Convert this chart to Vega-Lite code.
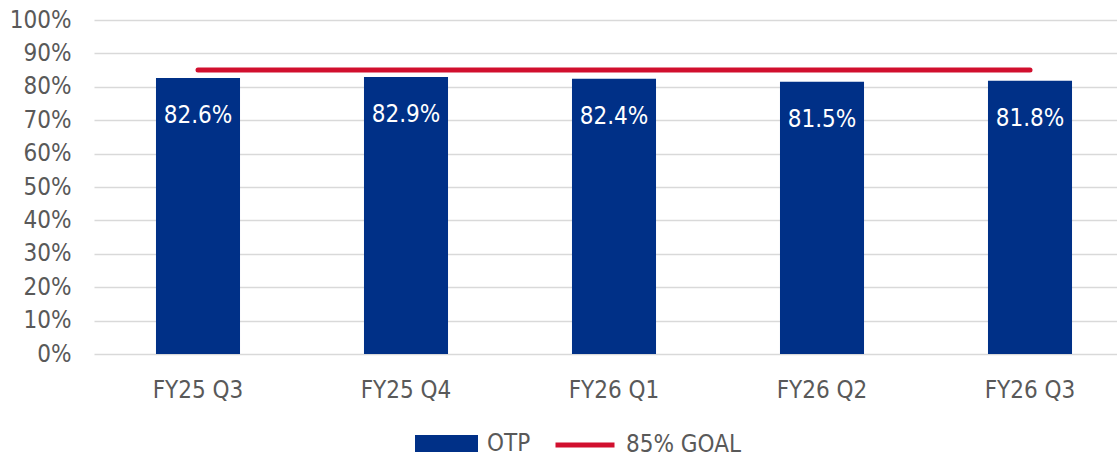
{
  "$schema": "https://vega.github.io/schema/vega-lite/v6.json",
  "autosize": {"type": "none"},
  "padding": {"left": 94, "top": 20, "right": 0, "bottom": 98},
  "width": 1040,
  "height": 334,
  "background": "white",
  "config": {
    "font": "DejaVu Sans Condensed",
    "view": {"stroke": null}
  },
  "data": {
    "values": [
      {"quarter": "FY25 Q3", "value": 0.826, "goal": 0.85, "series": "OTP", "goalSeries": "85% GOAL"},
      {"quarter": "FY25 Q4", "value": 0.829, "goal": 0.85, "series": "OTP", "goalSeries": "85% GOAL"},
      {"quarter": "FY26 Q1", "value": 0.824, "goal": 0.85, "series": "OTP", "goalSeries": "85% GOAL"},
      {"quarter": "FY26 Q2", "value": 0.815, "goal": 0.85, "series": "OTP", "goalSeries": "85% GOAL"},
      {"quarter": "FY26 Q3", "value": 0.818, "goal": 0.85, "series": "OTP", "goalSeries": "85% GOAL"}
    ]
  },
  "encoding": {
    "x": {
      "field": "quarter", "type": "nominal", "sort": null,
      "scale": {"paddingInner": 0.596, "paddingOuter": 0.298},
      "axis": {"title": null, "domain": false, "ticks": false, "grid": false, "labelAngle": 0, "labelFontSize": 24, "labelColor": "#595959", "labelPadding": 36, "labelBaseline": "middle"}
    }
  },
  "layer": [
    {
      "mark": {"type": "bar"},
      "encoding": {
        "y": {
          "field": "value", "type": "quantitative",
          "scale": {"domain": [0, 1], "nice": false},
          "axis": {"title": null, "format": ".0%", "values": [0, 0.1, 0.2, 0.3, 0.4, 0.5, 0.6, 0.7, 0.8, 0.9, 1], "tickCount": 12, "labelOverlap": false, "domain": false, "ticks": false, "labelFontSize": 24, "labelColor": "#595959", "labelPadding": 23, "grid": true, "gridColor": "#d9d9d9", "gridWidth": 1.5}
        },
        "fill": {
          "field": "series", "type": "nominal",
          "scale": {"domain": ["OTP"], "range": ["#003087"]},
          "legend": {
            "title": null, "orient": "none", "legendX": 321, "legendY": 392,
            "padding": 0, "symbolType": "M-1,-0.27H1V0.27H-1Z", "symbolSize": 3969,
            "symbolStrokeWidth": 0, "labelFontSize": 24, "labelColor": "#595959", "labelOffset": 9
          }
        }
      }
    },
    {
      "mark": {"type": "text", "color": "white", "fontSize": 24, "baseline": "middle", "dy": 38},
      "encoding": {
        "y": {"field": "value", "type": "quantitative"},
        "text": {"field": "value", "type": "quantitative", "format": ".1%"}
      }
    },
    {
      "mark": {"type": "line", "strokeWidth": 5, "strokeCap": "round"},
      "encoding": {
        "y": {"field": "goal", "type": "quantitative"},
        "stroke": {
          "field": "goalSeries", "type": "nominal",
          "scale": {"domain": ["85% GOAL"], "range": ["#d10f2e"]},
          "legend": {
            "title": null, "orient": "none", "legendX": 459, "legendY": 393,
            "padding": 0, "symbolType": "M-1,0H1", "symbolSize": 3481,
            "symbolStrokeWidth": 5, "labelFontSize": 24, "labelColor": "#595959", "labelOffset": 9
          }
        }
      }
    }
  ]
}
